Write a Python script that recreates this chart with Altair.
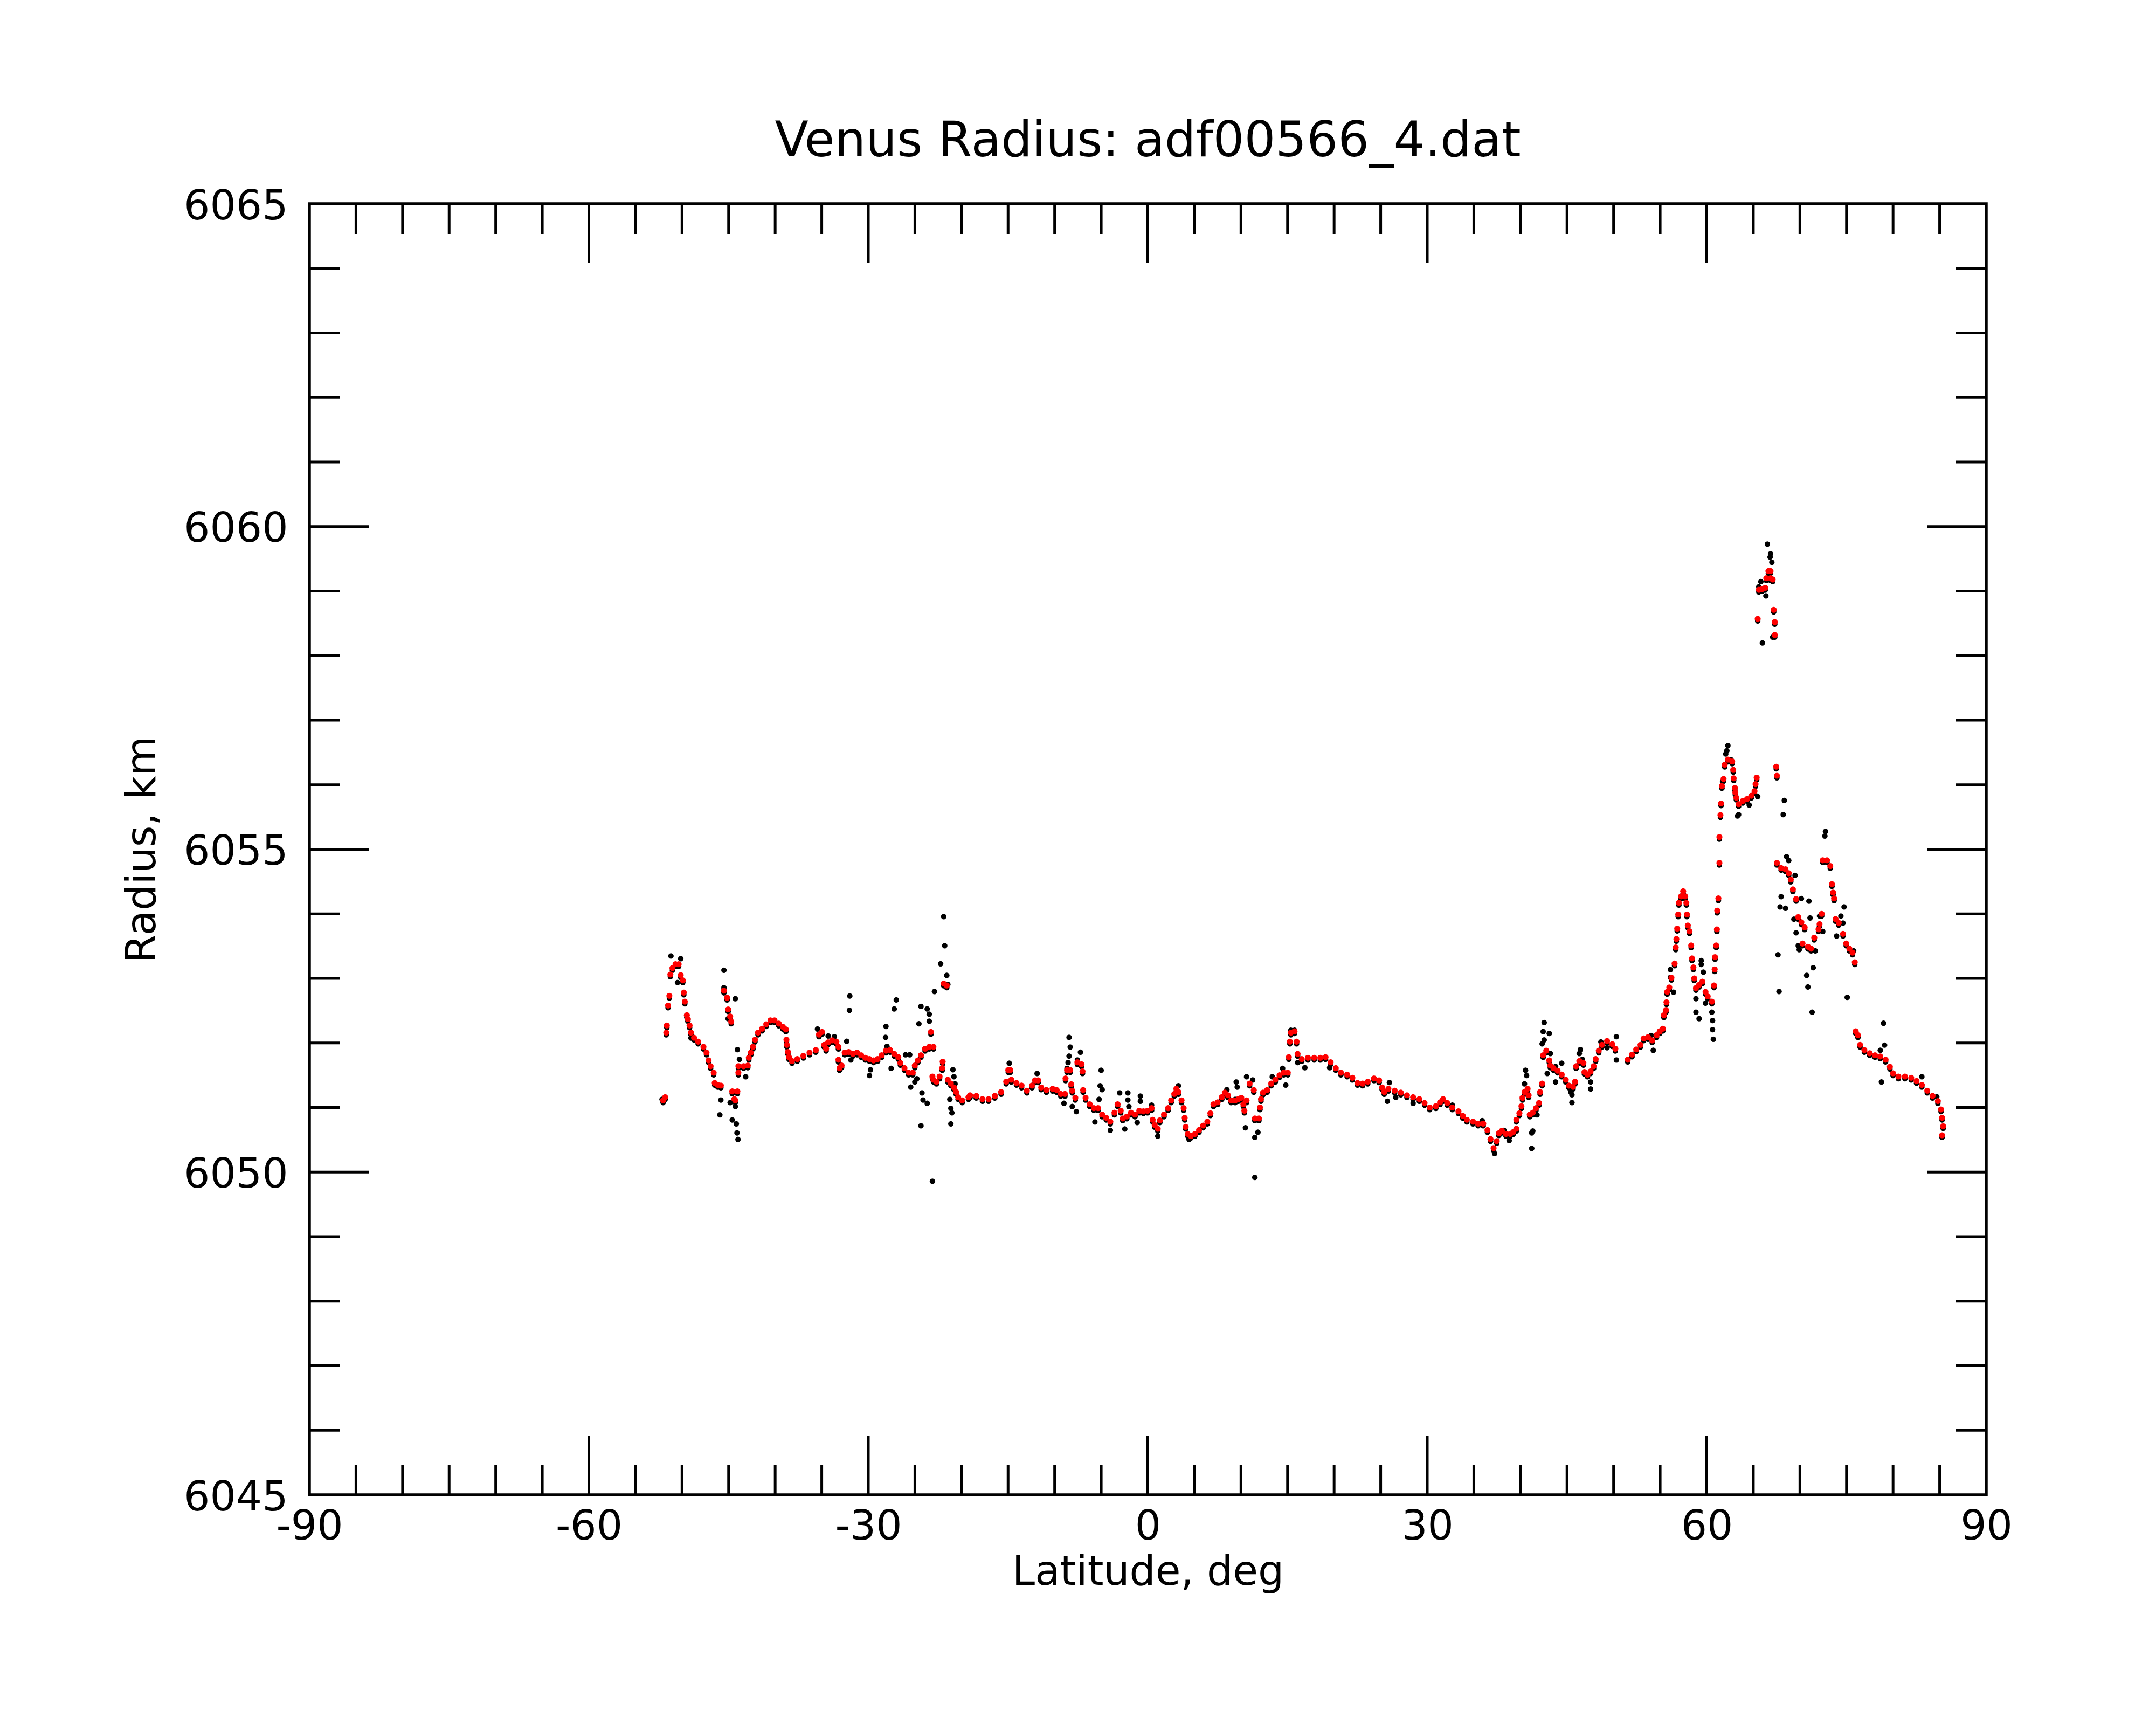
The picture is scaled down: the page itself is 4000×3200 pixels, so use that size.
import altair as alt
import pandas as pd

# ---------------- data: (latitude deg, radius km) ----------------
red_south = [
    (-52.03, 6051.11), (-51.81, 6051.16), (-51.69, 6052.16), (-51.63, 6052.27), (-51.50, 6052.58),
    (-51.36, 6052.73), (-51.25, 6053.06), (-51.03, 6053.16), (-50.70, 6053.22), (-50.36, 6053.22),
    (-50.14, 6053.05), (-49.92, 6052.97), (-49.81, 6052.78), (-49.70, 6052.64), (-49.48, 6052.43),
    (-49.37, 6052.37), (-49.19, 6052.27), (-49.04, 6052.16), (-48.71, 6052.08), (-48.27, 6052.02),
    (-47.70, 6051.94), (-47.37, 6051.85), (-47.15, 6051.73), (-46.93, 6051.64), (-46.60, 6051.54),
    (-46.49, 6051.38), (-46.16, 6051.35), (-45.83, 6051.34), (-45.50, 6052.81), (-45.16, 6052.70),
    (-45.05, 6052.52), (-44.83, 6052.41), (-44.72, 6052.33), (-44.61, 6051.25), (-44.06, 6051.25),
    (-44.39, 6051.13), (-44.28, 6051.11), (-43.95, 6051.54), (-43.95, 6051.64), (-43.39, 6051.64),
    (-42.94, 6051.65), (-42.83, 6051.77), (-42.61, 6051.85), (-42.39, 6051.94), (-42.17, 6052.05),
    (-41.84, 6052.16), (-41.40, 6052.22), (-40.96, 6052.29), (-40.51, 6052.35), (-40.07, 6052.35),
    (-39.62, 6052.30), (-39.18, 6052.25), (-38.85, 6052.21), (-38.79, 6052.05), (-38.74, 6051.97),
    (-38.63, 6051.86), (-38.52, 6051.78), (-38.19, 6051.72), (-37.63, 6051.75), (-36.97, 6051.80),
    (-36.31, 6051.85), (-35.64, 6051.89), (-35.30, 6052.13), (-34.97, 6052.17), (-34.75, 6051.97),
    (-34.53, 6051.91), (-34.31, 6052.01), (-33.87, 6052.04), (-33.43, 6052.02), (-33.21, 6051.94),
    (-33.21, 6051.74), (-33.10, 6051.61), (-32.87, 6051.65), (-32.54, 6051.85), (-32.10, 6051.86),
    (-31.65, 6051.83), (-31.21, 6051.85), (-30.77, 6051.81), (-30.32, 6051.77), (-29.88, 6051.75),
    (-29.44, 6051.73), (-29.00, 6051.75), (-28.56, 6051.81), (-28.11, 6051.88), (-27.67, 6051.89),
    (-27.22, 6051.83), (-26.78, 6051.78), (-26.56, 6051.69), (-26.12, 6051.61), (-25.67, 6051.54),
    (-25.23, 6051.54), (-25.01, 6051.65), (-24.68, 6051.73), (-24.35, 6051.81), (-23.91, 6051.91),
    (-23.46, 6051.94), (-23.01, 6051.94), (-23.28, 6052.17), (-23.12, 6051.48), (-23.01, 6051.43),
    (-22.68, 6051.40), (-22.35, 6051.48), (-22.07, 6051.61), (-22.02, 6051.71), (-21.91, 6052.92),
    (-21.58, 6052.89), (-21.47, 6051.43), (-21.14, 6051.37), (-20.81, 6051.31), (-20.58, 6051.24),
    (-20.36, 6051.16), (-19.92, 6051.11), (-19.25, 6051.16),
]

red_equator = [
    (-19.08, 6051.19), (-18.42, 6051.18), (-17.75, 6051.13), (-17.09, 6051.13), (-16.42, 6051.18),
    (-15.75, 6051.24), (-15.20, 6051.40), (-14.98, 6051.58), (-14.76, 6051.58), (-14.65, 6051.43),
    (-14.10, 6051.38), (-13.55, 6051.34), (-12.98, 6051.26), (-12.43, 6051.34), (-12.10, 6051.42),
    (-11.77, 6051.42), (-11.44, 6051.31), (-10.89, 6051.27), (-10.22, 6051.29), (-9.78, 6051.27),
    (-9.34, 6051.21), (-8.89, 6051.21), (-8.83, 6051.45), (-8.67, 6051.58), (-8.33, 6051.58),
    (-8.22, 6051.36), (-8.11, 6051.26), (-7.78, 6051.15), (-7.56, 6051.70), (-7.12, 6051.67),
    (-7.01, 6051.56), (-6.94, 6051.27), (-6.68, 6051.15), (-6.24, 6051.05), (-5.79, 6050.99),
    (-5.34, 6050.99), (-4.90, 6050.89), (-4.46, 6050.84), (-4.02, 6050.78), (-3.58, 6050.92),
    (-3.24, 6051.05), (-2.91, 6050.95), (-2.69, 6050.83), (-2.25, 6050.86), (-1.81, 6050.92),
    (-1.37, 6050.89), (-0.91, 6050.95), (-0.47, 6050.94), (-0.03, 6050.95), (0.41, 6050.99),
    (0.52, 6050.81), (0.74, 6050.73), (1.07, 6050.67), (1.29, 6050.80), (1.74, 6050.89),
    (2.18, 6050.99), (2.51, 6051.11), (2.84, 6051.21), (3.07, 6051.29), (3.29, 6051.24),
    (3.62, 6051.11), (3.85, 6050.99), (3.96, 6050.84), (4.07, 6050.70), (4.29, 6050.59),
    (4.62, 6050.56), (5.06, 6050.59), (5.50, 6050.65), (5.94, 6050.72), (6.39, 6050.78),
    (6.72, 6050.91), (7.05, 6051.05), (7.50, 6051.08), (7.94, 6051.16), (8.27, 6051.23),
    (8.60, 6051.19), (8.94, 6051.11), (9.38, 6051.11), (9.71, 6051.13), (10.04, 6051.15),
    (10.26, 6051.05), (10.37, 6050.95), (10.60, 6051.11), (10.93, 6051.37), (11.38, 6051.27),
    (11.49, 6050.83), (11.93, 6050.83), (12.04, 6051.00), (12.15, 6051.13), (12.37, 6051.23),
    (12.81, 6051.27), (13.25, 6051.37), (13.69, 6051.43), (14.14, 6051.50), (14.59, 6051.54),
    (15.03, 6051.54), (15.14, 6051.78), (15.25, 6052.02), (15.36, 6052.16),
]

red_north = [
    (15.75, 6052.18), (15.97, 6052.02), (16.08, 6051.83), (16.53, 6051.75), (17.19, 6051.77),
    (17.86, 6051.77), (18.52, 6051.77), (19.08, 6051.78), (19.63, 6051.70), (20.18, 6051.61),
    (20.73, 6051.54), (21.40, 6051.51), (21.96, 6051.46), (22.51, 6051.38), (23.06, 6051.37),
    (23.61, 6051.40), (24.28, 6051.45), (24.83, 6051.42), (25.16, 6051.31), (25.38, 6051.24),
    (25.83, 6051.29), (26.50, 6051.26), (27.16, 6051.23), (27.82, 6051.19), (28.48, 6051.16),
    (29.15, 6051.13), (29.71, 6051.07), (30.26, 6051.00), (30.92, 6051.02), (31.37, 6051.08),
    (31.70, 6051.13), (32.14, 6051.07), (32.69, 6051.00), (33.35, 6050.94), (33.81, 6050.87),
    (34.25, 6050.81), (34.91, 6050.78), (35.46, 6050.75), (36.01, 6050.75), (36.46, 6050.65),
    (36.79, 6050.51), (37.12, 6050.37), (37.46, 6050.48), (37.68, 6050.60), (38.01, 6050.64),
    (38.45, 6050.59), (38.90, 6050.59), (39.23, 6050.62), (39.56, 6050.67), (39.56, 6050.81),
    (39.89, 6050.91), (40.11, 6051.02), (40.22, 6051.15), (40.44, 6051.24), (40.77, 6051.29),
    (40.88, 6051.19), (41.00, 6050.89), (41.33, 6050.92), (41.67, 6050.99), (42.00, 6051.07),
    (42.11, 6051.24), (42.33, 6051.37), (42.44, 6051.81), (42.77, 6051.88), (43.10, 6051.73),
    (43.21, 6051.65), (43.55, 6051.61), (43.99, 6051.57), (44.43, 6051.51), (44.87, 6051.43),
    (45.20, 6051.34), (45.65, 6051.32), (45.87, 6051.40), (45.98, 6051.64), (46.32, 6051.72),
    (46.76, 6051.69), (46.87, 6051.55), (47.20, 6051.51), (47.53, 6051.56), (47.86, 6051.64),
    (48.08, 6051.75), (48.41, 6051.88), (48.75, 6051.97), (49.30, 6052.03), (49.86, 6051.98),
    (50.19, 6051.91),
]

red_polar = [
    (51.52, 6051.74), (51.98, 6051.82), (52.43, 6051.90), (52.89, 6051.97), (53.23, 6052.07),
    (53.69, 6052.09), (54.15, 6052.04), (54.61, 6052.12), (54.95, 6052.18), (55.29, 6052.22),
    (55.40, 6052.43), (55.63, 6052.51), (55.68, 6052.63), (55.75, 6052.79), (55.98, 6052.86),
    (56.21, 6053.01), (56.55, 6053.23), (56.67, 6053.48), (56.74, 6053.61), (56.83, 6053.77),
    (56.94, 6053.99), (57.01, 6054.17), (57.24, 6054.27), (57.47, 6054.35), (57.69, 6054.27),
    (57.81, 6054.17), (57.87, 6053.99), (57.97, 6053.82), (58.15, 6053.73), (58.33, 6053.51),
    (58.42, 6053.31), (58.57, 6053.17), (58.66, 6053.00), (58.84, 6052.85), (59.18, 6052.90),
    (59.53, 6052.95), (59.87, 6052.79), (60.10, 6052.72), (60.55, 6052.64), (60.78, 6052.89),
    (60.85, 6053.14), (60.89, 6053.33), (61.02, 6053.51), (61.09, 6053.76), (61.13, 6054.05),
    (61.25, 6054.24), (61.36, 6054.79), (61.36, 6055.19), (61.47, 6055.53), (61.54, 6055.71),
    (61.63, 6055.98), (61.81, 6056.09), (61.93, 6056.31), (62.27, 6056.39), (62.73, 6056.36),
    (62.84, 6056.23), (62.89, 6056.10), (63.02, 6055.95), (63.07, 6055.88), (63.18, 6055.80),
    (63.42, 6055.70), (63.88, 6055.75), (64.33, 6055.78), (64.79, 6055.83), (65.13, 6055.90),
    (65.24, 6056.01), (65.36, 6056.11), (65.59, 6059.02), (65.94, 6059.03), (66.28, 6059.05),
    (66.39, 6059.20), (66.62, 6059.31), (66.85, 6059.31), (66.85, 6059.20), (67.08, 6059.18),
    (67.19, 6058.71), (65.47, 6058.57), (67.30, 6058.52), (67.30, 6058.32), (67.46, 6056.28),
    (67.53, 6056.14), (67.53, 6054.79), (67.99, 6054.71), (68.45, 6054.69), (68.80, 6054.63),
    (69.02, 6054.53), (69.25, 6054.38), (69.59, 6054.23), (69.82, 6053.95), (70.16, 6053.87),
    (70.51, 6053.79), (70.28, 6053.54), (70.86, 6053.49), (71.20, 6053.46), (71.54, 6053.63),
    (72.00, 6053.76), (72.11, 6053.84), (72.34, 6054.00), (72.45, 6054.83), (72.91, 6054.83),
    (73.26, 6054.74), (73.44, 6054.46), (73.56, 6054.33), (73.67, 6054.24), (73.83, 6053.92),
    (74.17, 6053.86), (74.63, 6053.69), (74.97, 6053.54), (75.31, 6053.46), (75.65, 6053.40),
    (75.89, 6053.25), (75.99, 6052.18), (76.23, 6052.12), (76.46, 6051.97), (76.92, 6051.89),
    (77.49, 6051.84), (78.06, 6051.81), (78.63, 6051.79), (79.20, 6051.74), (79.66, 6051.63),
    (80.00, 6051.53), (80.57, 6051.48), (81.27, 6051.48), (81.95, 6051.46), (82.52, 6051.41),
    (83.09, 6051.35), (83.67, 6051.26), (84.24, 6051.18), (84.81, 6051.10), (85.15, 6050.97),
    (85.26, 6050.84), (85.38, 6050.71), (85.26, 6050.57),
]

black_outliers = [
    (-51.19, 6053.38), (-50.14, 6053.34), (-50.48, 6052.97), (-52.14, 6051.16), (-49.37, 6052.40),
    (-49.04, 6052.11), (-45.50, 6053.16), (-45.50, 6052.89), (-44.28, 6052.72), (-45.05, 6052.41),
    (-45.83, 6051.15), (-45.94, 6050.92), (-44.83, 6051.11), (-44.28, 6051.05), (-44.61, 6050.84),
    (-44.17, 6050.78), (-44.10, 6050.64), (-43.99, 6050.54), (-44.06, 6051.93), (-43.84, 6051.78),
    (-43.17, 6051.51), (-35.46, 6052.25), (-34.31, 6052.14), (-33.65, 6052.13), (-32.32, 6052.06),
    (-31.99, 6052.76), (-32.03, 6052.54), (-31.88, 6051.77), (-29.88, 6051.53), (-29.77, 6051.62),
    (-28.11, 6052.29), (-28.15, 6052.12), (-28.00, 6051.98), (-27.55, 6051.64), (-27.22, 6052.56),
    (-27.00, 6052.70), (-26.01, 6051.85), (-25.56, 6051.85), (-25.45, 6051.35), (-25.01, 6051.43),
    (-24.79, 6051.48), (-24.57, 6052.33), (-24.35, 6052.60), (-23.68, 6052.56), (-23.46, 6052.48),
    (-23.46, 6052.37), (-22.90, 6052.83), (-21.91, 6053.99), (-21.80, 6053.54), (-22.24, 6053.26),
    (-21.58, 6053.08), (-21.47, 6052.94), (-24.24, 6051.26), (-24.13, 6051.15), (-23.68, 6051.10),
    (-24.35, 6050.75), (-23.12, 6049.89), (-21.25, 6051.16), (-21.14, 6051.02), (-21.03, 6050.95),
    (-21.14, 6050.78), (-20.92, 6051.62), (-20.69, 6051.40), (-20.81, 6051.51),
    (-14.87, 6051.72), (-11.88, 6051.56), (-9.00, 6051.10), (-8.45, 6052.12), (-8.33, 6051.97),
    (-8.45, 6051.83), (-8.56, 6051.73), (-8.67, 6051.64), (-7.23, 6051.89), (-7.56, 6051.77),
    (-8.11, 6051.05), (-7.67, 6050.97), (-5.01, 6051.61), (-5.12, 6051.37), (-4.90, 6051.31),
    (-5.23, 6051.16), (-5.68, 6050.81), (-4.02, 6050.68), (-3.02, 6051.26), (-2.14, 6051.26),
    (-2.14, 6051.15), (-2.03, 6051.05), (-2.47, 6050.70), (-0.80, 6051.21), (-0.80, 6051.13),
    (-1.14, 6050.80), (0.41, 6051.07), (1.07, 6050.59), (3.29, 6051.37), (4.43, 6050.54),
    (8.49, 6051.31), (9.49, 6051.43), (9.60, 6051.35), (9.38, 6051.16), (10.48, 6050.72),
    (10.60, 6051.51), (11.26, 6051.46), (11.49, 6050.57), (11.82, 6050.65), (11.49, 6049.95),
    (13.36, 6051.51), (14.47, 6051.64), (14.81, 6051.38), (15.36, 6052.23),
    (15.75, 6052.23), (16.08, 6051.73), (16.86, 6051.65), (19.52, 6051.65), (25.72, 6051.13),
    (25.94, 6051.42), (26.61, 6051.19), (28.48, 6051.10), (32.69, 6051.07), (35.90, 6050.83),
    (37.23, 6050.32), (38.23, 6050.68), (38.79, 6050.52), (40.55, 6051.61), (40.66, 6051.53),
    (40.44, 6051.40), (41.21, 6050.64), (41.33, 6050.67), (41.21, 6050.40), (41.78, 6050.92),
    (42.55, 6052.35), (42.44, 6052.21), (43.10, 6052.18), (42.55, 6052.08), (42.33, 6052.02),
    (43.21, 6051.87), (42.88, 6051.56), (43.77, 6051.43), (43.77, 6051.67), (44.43, 6051.72),
    (45.42, 6051.27), (45.53, 6051.23), (45.53, 6051.11), (46.43, 6051.93), (46.32, 6051.87),
    (46.65, 6051.78), (47.53, 6051.43), (47.53, 6051.32), (48.64, 6052.05), (49.30, 6051.96),
    (50.30, 6052.13), (50.30, 6051.77),
    (54.26, 6051.92), (54.04, 6052.15), (56.10, 6053.17), (56.10, 6053.05), (56.44, 6052.82),
    (59.41, 6053.31), (59.41, 6053.25), (59.64, 6053.13), (58.84, 6052.72), (59.87, 6052.65),
    (58.84, 6052.51), (59.18, 6052.41), (60.55, 6052.51), (60.62, 6052.38), (60.62, 6052.24),
    (60.71, 6052.09), (68.57, 6054.92), (68.80, 6054.86), (69.48, 6054.63), (67.99, 6054.30),
    (67.87, 6054.14), (68.45, 6054.12), (67.65, 6053.40), (67.76, 6052.83), (70.16, 6054.27),
    (70.97, 6054.23), (69.36, 6053.95), (69.59, 6053.74), (71.09, 6053.97), (69.82, 6053.54),
    (69.93, 6053.48), (71.66, 6053.46), (71.43, 6053.20), (70.73, 6053.08), (70.86, 6052.90),
    (71.31, 6052.51), (72.45, 6053.76), (72.11, 6054.00), (74.40, 6054.00), (74.74, 6054.14),
    (73.94, 6053.69), (74.63, 6053.89), (75.08, 6052.74), (75.77, 6053.46), (78.98, 6052.34),
    (79.09, 6052.00), (78.63, 6051.92), (78.75, 6051.43), (83.09, 6051.51), (84.69, 6051.20),
    (66.51, 6059.76), (66.85, 6059.61), (66.80, 6059.56), (66.99, 6059.48), (65.81, 6059.18),
    (65.59, 6059.10), (66.35, 6058.96), (65.97, 6058.23), (67.08, 6058.32),
    (62.27, 6056.64), (62.16, 6056.56), (62.04, 6056.51), (62.61, 6056.42), (61.70, 6056.08),
    (63.42, 6055.57), (63.30, 6055.55), (64.56, 6055.72), (65.47, 6055.85), (68.33, 6055.79),
    (68.21, 6055.57), (72.75, 6055.31), (72.68, 6055.24),
]

# axis ticks / labels
x_labels = [-90, -60, -30, 0, 30, 60, 90]
x_major = [-60, -30, 0, 30, 60]
x_minor = [-85, -80, -75, -70, -65, -55, -50, -45, -40, -35, -25, -20, -15, -10, -5,
           5, 10, 15, 20, 25, 35, 40, 45, 50, 55, 65, 70, 75, 80, 85]
y_labels = [6045, 6050, 6055, 6060, 6065]
y_major = [6050, 6055, 6060]
y_minor = [6046, 6047, 6048, 6049, 6051, 6052, 6053, 6054, 6056, 6057, 6058, 6059,
           6061, 6062, 6063, 6064]

# ---------------- chart ----------------
W, H = 3111, 2395
MAJ, MIN = 110, 56
SW = 5
FONT = "DejaVu Sans"

red = red_south + red_equator + red_north + red_polar
red_df = pd.DataFrame(red, columns=["lat", "r"])
black_df = pd.DataFrame(red + black_outliers, columns=["lat", "r"])

xscale = alt.Scale(domain=[-90, 90], nice=False, zero=False)
yscale = alt.Scale(domain=[6045, 6065], nice=False, zero=False)

xaxis = alt.Axis(values=x_labels, labelExpr="'' + datum.value", grid=False, ticks=False,
                 tickSize=0, domain=False, labelFont=FONT, labelFontSize=76, labelColor="black",
                 labelPadding=22, labelFlush=False, labelOverlap=False, labelLimit=0,
                 title="Latitude, deg", titleFont=FONT, titleFontSize=76,
                 titleFontWeight="normal", titleColor="black", titlePadding=9)
yaxis = alt.Axis(values=y_labels, labelExpr="'' + datum.value", grid=False, ticks=False,
                 tickSize=0, domain=False, labelFont=FONT, labelFontSize=76, labelColor="black",
                 labelPadding=40, labelFlush=False, labelOverlap=False, labelLimit=0,
                 labelOffset=5,
                 title="Radius, km", titleFont=FONT, titleFontSize=76,
                 titleFontWeight="normal", titleColor="black", titlePadding=71)

black_layer = alt.Chart(black_df).mark_circle(size=105, color="black", opacity=1, yOffset=4).encode(
    x=alt.X("lat:Q", scale=xscale, axis=xaxis),
    y=alt.Y("r:Q", scale=yscale, axis=yaxis),
)
red_layer = alt.Chart(red_df).mark_circle(size=125, color="#ff0000", opacity=1).encode(
    x=alt.X("lat:Q"),
    y=alt.Y("r:Q"),
)


def xticks(vals, length):
    df = pd.DataFrame({"lat": vals})
    bottom = alt.Chart(df).mark_rule(color="black", strokeWidth=SW).encode(
        x="lat:Q", y=alt.value(H), y2=alt.value(H - length))
    top = alt.Chart(df).mark_rule(color="black", strokeWidth=SW).encode(
        x="lat:Q", y=alt.value(0), y2=alt.value(length))
    return [bottom, top]


def yticks(vals, length):
    df = pd.DataFrame({"r": vals})
    left = alt.Chart(df).mark_rule(color="black", strokeWidth=SW).encode(
        y="r:Q", x=alt.value(0), x2=alt.value(length))
    right = alt.Chart(df).mark_rule(color="black", strokeWidth=SW).encode(
        y="r:Q", x=alt.value(W), x2=alt.value(W - length))
    return [left, right]


layers = [black_layer, red_layer] + xticks(x_major, MAJ) + xticks(x_minor, MIN) \
    + yticks(y_major, MAJ) + yticks(y_minor, MIN)

chart = alt.layer(*layers).properties(
    width=W,
    height=H,
    background="white",
    autosize=alt.AutoSizeParams(type="none"),
    padding={"left": 566, "top": 370, "right": 290, "bottom": 400},
    title=alt.TitleParams("Venus Radius: adf00566_4.dat", font=FONT, fontSize=91,
                          fontWeight="normal", color="black", anchor="middle",
                          frame="group", baseline="alphabetic", offset=-36),
).configure_view(
    stroke="black", strokeWidth=5.5
)

chart.save("out.html", embed_options={"renderer": "svg", "actions": False})
